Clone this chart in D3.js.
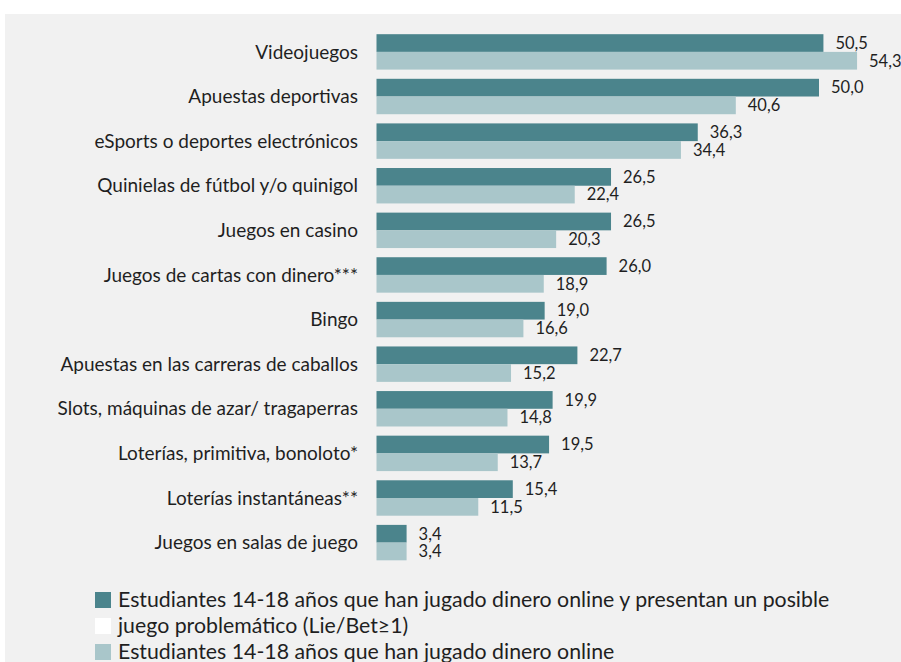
<!DOCTYPE html>
<html>
<head>
<meta charset="utf-8">
<script src="https://cdn.jsdelivr.net/npm/d3@7"></script>
<style>
  body { margin: 0; background: #fff; }
  text { font-family: Lato, "Open Sans", sans-serif; fill: #1f1f1f; }
</style>
</head>
<body>
<div id="graph"></div>
<script>

var categories = [
    "Videojuegos",
    "Apuestas deportivas",
    "eSports o deportes electrónicos",
    "Quinielas de fútbol y/o quinigol",
    "Juegos en casino",
    "Juegos de cartas con dinero***",
    "Bingo",
    "Apuestas en las carreras de caballos",
    "Slots, máquinas de azar/ tragaperras",
    "Loterías, primitiva, bonoloto*",
    "Loterías instantáneas**",
    "Juegos en salas de juego"
];

// Lie/Bet >= 1
var problemValues = [50.5, 50.0, 36.3, 26.5, 26.5, 26.0, 19.0, 22.7, 19.9, 19.5, 15.4, 3.4];
// all online gamblers
var onlineValues = [54.3, 40.6, 34.4, 22.4, 20.3, 18.9, 16.6, 15.2, 14.8, 13.7, 11.5, 3.4];

var legendLabels = [
    "Estudiantes 14-18 años que han jugado dinero online y presentan un posible",
    "juego problemático (Lie/Bet≥1)",
    "Estudiantes 14-18 años que han jugado dinero online"
];

var darkColor = "#4b848c",
    lightColor = "#a9c6ca";

var width = 901, height = 662;

var svg = d3.select("#graph").append("svg")
    .attr("width", width)
    .attr("height", height);

// grey panel
svg.append("rect")
    .attr("x", 5).attr("y", 14)
    .attr("width", width - 5).attr("height", height - 14)
    .attr("fill", "#f1f1f1");

// Set X
var xScale = d3.scaleLinear()
    .domain([0, 60])
    .range([376.5, 376.5 + 60 * 8.85]);

// Set Y
var yScale = d3.scaleBand()
    .domain(categories)
    .range([25, 569.5])
    .padding(0.206);

var ySub = d3.scaleBand()
    .domain(["problem", "online"])
    .range([0, yScale.bandwidth()]);

var rows = categories.map(function(c, i) {
    return { cat: c, problem: problemValues[i], online: onlineValues[i] };
});

// category labels
svg.selectAll(".catLabel")
    .data(rows)
    .enter().append("text")
    .attr("class", "catLabel")
    .attr("x", 358)
    .attr("y", function(d) { return yScale(d.cat) + yScale.bandwidth() / 2; })
    .attr("dy", "0.35em")
    .attr("text-anchor", "end")
    .style("font-size", "19px")
    .text(function(d) { return d.cat; });

var series = [
    { key: "problem", color: darkColor },
    { key: "online", color: lightColor }
];

series.forEach(function(s) {
    svg.selectAll(".bar-" + s.key)
        .data(rows)
        .enter().append("rect")
        .attr("class", "bar-" + s.key)
        .attr("x", xScale(0))
        .attr("y", function(d) { return yScale(d.cat) + ySub(s.key); })
        .attr("width", function(d) { return xScale(d[s.key]) - xScale(0); })
        .attr("height", ySub.bandwidth())
        .attr("fill", s.color);

    svg.selectAll(".val-" + s.key)
        .data(rows)
        .enter().append("text")
        .attr("class", "val-" + s.key)
        .attr("x", function(d) { return xScale(d[s.key]) + 12; })
        .attr("y", function(d) { return yScale(d.cat) + ySub(s.key) + ySub.bandwidth() / 2; })
        .attr("dy", "0.35em")
        .style("font-size", "16.5px")
        .text(function(d) { return d[s.key].toFixed(1).replace(".", ","); });
});

// legend
var legendColors = [darkColor, "#ffffff", lightColor];
var legendY = [600, 626, 652];

var legend = svg.selectAll(".legend")
    .data(legendLabels)
    .enter().append("g")
    .attr("class", "legend")
    .attr("transform", function(d, i) { return "translate(95," + legendY[i] + ")"; });

legend.append("rect")
    .attr("x", 0).attr("y", -8)
    .attr("width", 16).attr("height", 16)
    .attr("fill", function(d, i) { return legendColors[i]; });

legend.append("text")
    .attr("x", 23)
    .attr("dy", "0.35em")
    .style("font-size", "21.3px")
    .text(function(d) { return d; });

</script>
</body>
</html>
